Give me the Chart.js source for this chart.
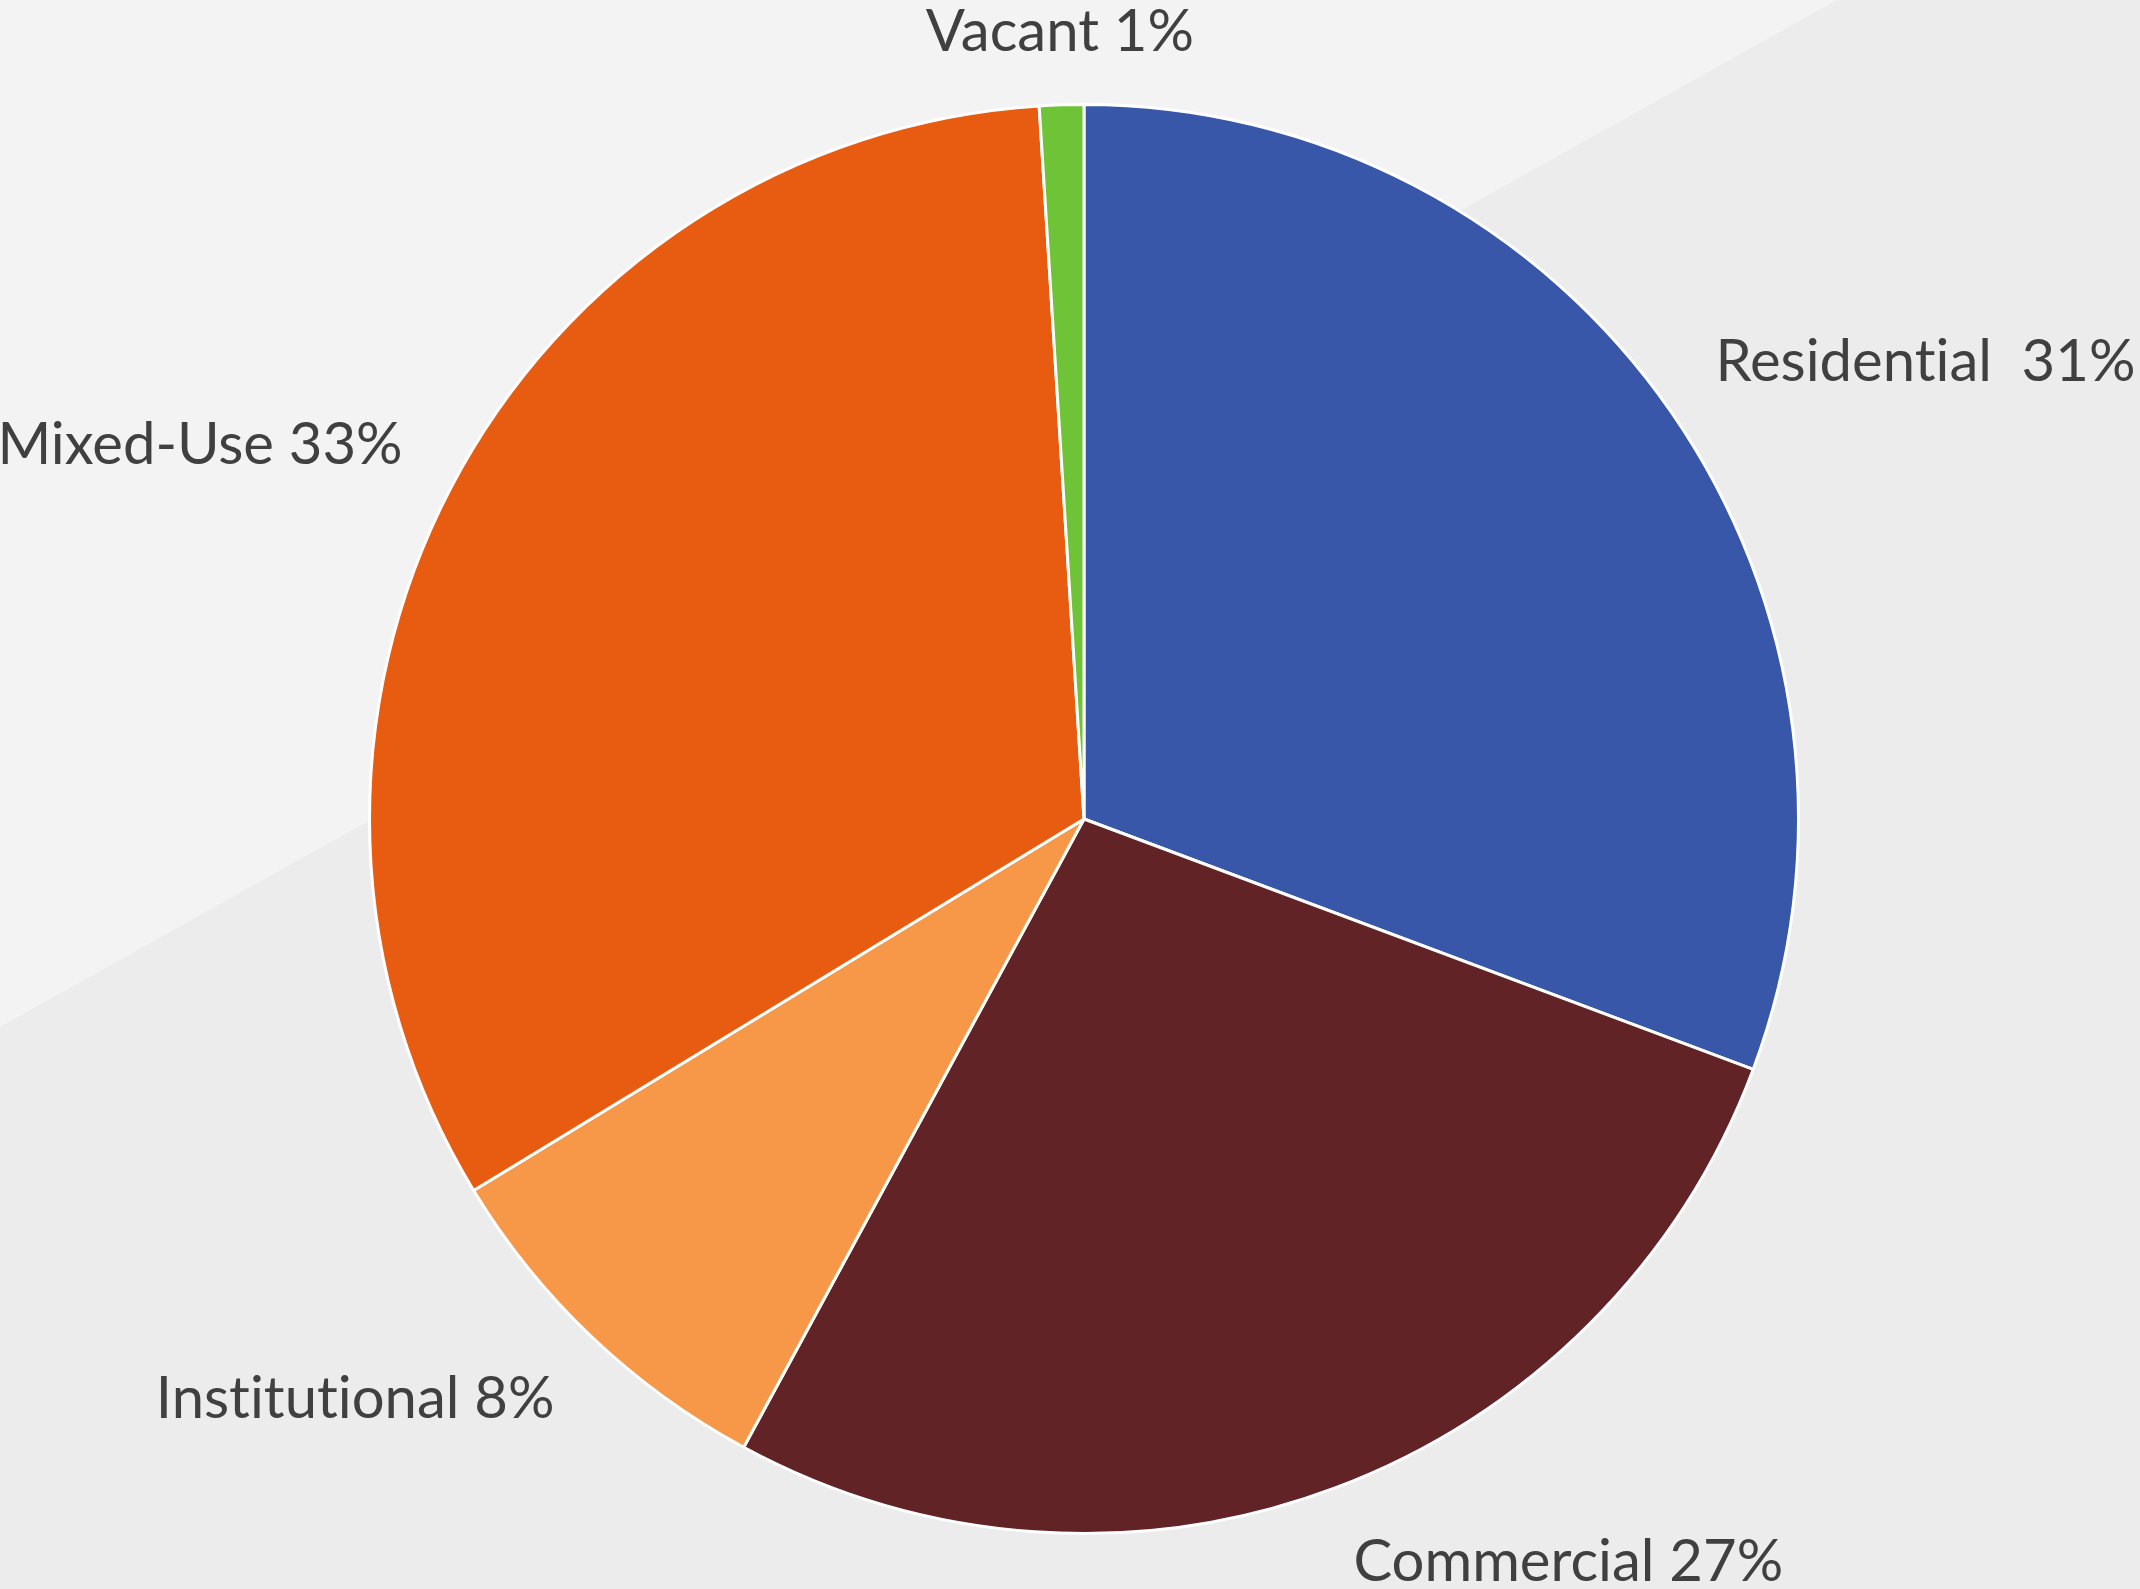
<!DOCTYPE html>
<html>
<head>
<meta charset="utf-8">
<script src="https://cdn.jsdelivr.net/npm/chart.js@4.4.1/dist/chart.umd.min.js"></script>
<style>
    html, body { margin: 0; padding: 0; background: #ececec; }
    #wrap { width: 2140px; height: 1589px; }
</style>
</head>
<body>
<div id="wrap"><canvas id="landUse" width="2140" height="1589"></canvas></div>
<script>
// -- Data --
const categories = ['Residential', 'Commercial', 'Institutional', 'Mixed-Use', 'Vacant'];
const shares = [30.7, 27.2, 8.4, 32.7, 1.0];
const sliceColors = ['#3857a8', '#622326', '#f79748', '#e85c12', '#6ec336'];
// Residential label carries an extra space in the original
const labelGap = [' ', ' ', ' ', ' ', ' '];
labelGap[0] = '  ';

const LABEL_FONT = '58px Lato';
const LABEL_COLOR = '#404040';
const LABEL_PAD = 54;

// -- Two-tone backdrop --
const backdrop = {
    id: 'backdrop',
    beforeDraw(chart) {
        const { ctx, width, height } = chart;
        ctx.save();
        ctx.fillStyle = '#ececec';
        ctx.fillRect(0, 0, width, height);
        ctx.fillStyle = '#f3f3f3';
        ctx.beginPath();
        ctx.moveTo(0, 0);
        ctx.lineTo(width * 0.8584, 0);
        ctx.lineTo(0, height * 0.6463);
        ctx.closePath();
        ctx.fill();
        ctx.restore();
    }
};

// -- Outside-end labels --
const sliceLabels = {
    id: 'sliceLabels',
    afterDatasetsDraw(chart) {
        const { ctx } = chart;
        const meta = chart.getDatasetMeta(0);
        const total = shares.reduce((a, b) => a + b, 0);
        ctx.save();
        ctx.font = LABEL_FONT;
        ctx.fillStyle = LABEL_COLOR;
        ctx.textAlign = 'left';
        ctx.textBaseline = 'alphabetic';
        ctx.textRendering = 'optimizeSpeed'; // no "ti" ligature
        const capH = ctx.measureText('H').actualBoundingBoxAscent;

        meta.data.forEach((arc, i) => {
            const { x, y, startAngle, endAngle, outerRadius } = arc.getProps(['x', 'y', 'startAngle', 'endAngle', 'outerRadius'], true);
            const mid = (startAngle + endAngle) / 2;
            const dx = Math.cos(mid), dy = Math.sin(mid);
            const r = outerRadius + LABEL_PAD;
            const px = x + dx * r, py = y + dy * r;
            const text = categories[i] + labelGap[i] + Math.round(shares[i] / total * 100) + '%';
            const w = ctx.measureText(text).width;

            let left;
            if (dx > 0.15) left = px;
            else if (dx < -0.15) left = px - w;
            else left = px - w / 2;

            let base;
            if (dy > 0.15) base = py + capH;
            else if (dy < -0.15) base = py;
            else base = py + capH / 2;

            ctx.fillText(text, left, base);
        });
        ctx.restore();
    }
};

new Chart(document.getElementById('landUse'), {
    type: 'pie',
    data: {
        labels: categories,
        datasets: [{
            data: shares,
            backgroundColor: sliceColors,
            borderColor: '#ffffff',
            borderWidth: 3
        }]
    },
    options: {
        responsive: false,
        animation: false,
        layout: { padding: { top: 103, bottom: 54, left: 368, right: 340 } },
        plugins: {
            legend: { display: false },
            tooltip: { enabled: false }
        }
    },
    plugins: [backdrop, sliceLabels]
});
</script>
</body>
</html>
